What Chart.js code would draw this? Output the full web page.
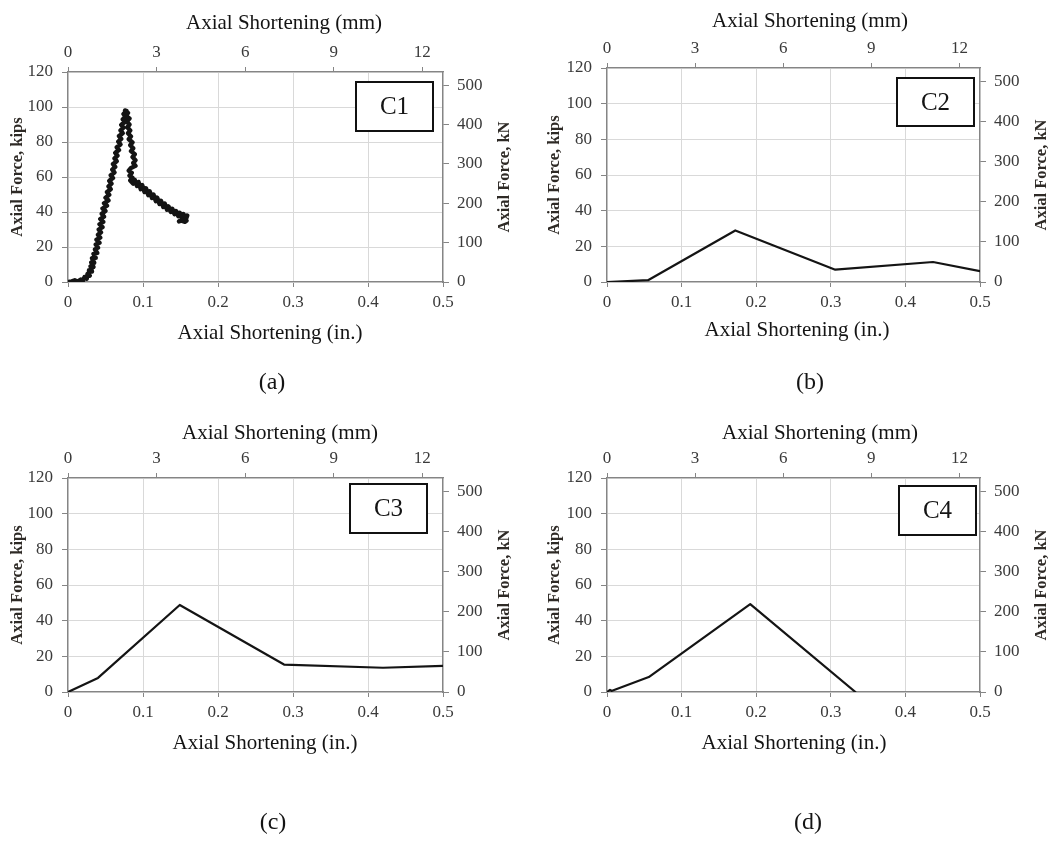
<!DOCTYPE html>
<html>
<head>
<meta charset="utf-8">
<title>Axial force vs. axial shortening, columns C1–C4</title>
<script src="https://cdn.jsdelivr.net/npm/chart.js@4.4.0/dist/chart.umd.min.js"></script>
<style>
  html, body { margin: 0; padding: 0; background: #ffffff; }
  body { width: 1054px; height: 846px; position: relative; overflow: hidden; }
  canvas { position: absolute; }
</style>
</head>
<body>
<canvas id="panelA" width="527" height="400" style="left:0px;top:0px"></canvas>
<canvas id="panelB" width="527" height="400" style="left:527px;top:0px"></canvas>
<canvas id="panelC" width="527" height="446" style="left:0px;top:400px"></canvas>
<canvas id="panelD" width="527" height="446" style="left:527px;top:400px"></canvas>
<script>
// ---- Test records: axial shortening (in.) and axial force (kips) ----
// C1 was logged continuously, so its record carries the transducer scatter.
const c1Shortening = [
  0.000, 0.005, 0.009, 0.013, 0.017, 0.020, 0.022, 0.025, 0.026, 0.029,
  0.028, 0.032, 0.030, 0.034, 0.031, 0.035, 0.032, 0.037, 0.034, 0.039,
  0.036, 0.040, 0.037, 0.042, 0.038, 0.043, 0.040, 0.044, 0.041, 0.046,
  0.042, 0.047, 0.043, 0.048, 0.045, 0.050, 0.046, 0.052, 0.048, 0.054,
  0.050, 0.055, 0.052, 0.057, 0.054, 0.058, 0.055, 0.060, 0.057, 0.062,
  0.059, 0.063, 0.060, 0.065, 0.062, 0.066, 0.063, 0.068, 0.065, 0.070,
  0.067, 0.071, 0.068, 0.073, 0.070, 0.074, 0.071, 0.076, 0.073, 0.077,
  0.074, 0.078, 0.076, 0.080, 0.077,
  0.082, 0.078, 0.082, 0.079, 0.083, 0.080, 0.084, 0.081, 0.086, 0.083,
  0.087, 0.084, 0.089, 0.086, 0.090, 0.087, 0.090, 0.084, 0.081, 0.085,
  0.082, 0.086, 0.083,
  0.087, 0.089, 0.092, 0.094, 0.097, 0.099, 0.102, 0.104, 0.107, 0.109,
  0.112, 0.114, 0.117, 0.119, 0.122, 0.124, 0.127, 0.129, 0.132, 0.134,
  0.137, 0.139, 0.142, 0.144, 0.147, 0.149, 0.152, 0.154, 0.157, 0.159,
  0.156, 0.151, 0.148, 0.154, 0.158
];
const c1Force = [
  0.0, 0.4, 1.0, 0.2, 1.4, 0.8, 2.8, 1.9, 4.6, 3.6,
  6.8, 6.0, 9.0, 8.6, 11.2, 11.0, 13.6, 13.8, 16.0, 16.6,
  18.6, 19.6, 21.4, 22.4, 24.2, 25.4, 27.0, 28.4, 30.0, 31.4,
  33.0, 34.4, 36.0, 37.4, 39.0, 40.6, 42.0, 43.6, 45.0, 46.6,
  48.2, 49.8, 51.4, 53.0, 54.6, 56.2, 57.8, 59.4, 61.0, 62.6,
  64.2, 65.8, 67.4, 69.0, 70.6, 72.2, 73.8, 75.4, 77.0, 78.6,
  80.2, 81.8, 83.4, 85.0, 86.6, 88.2, 89.8, 91.4, 93.0, 94.6,
  96.0, 97.8, 98.0, 96.6, 95.0,
  93.4, 91.8, 90.0, 88.4, 86.6, 85.0, 83.2, 81.6, 79.8, 78.2,
  76.4, 74.8, 73.0, 71.4, 69.6, 68.0, 66.4, 65.2, 63.6, 62.4,
  60.8, 59.6, 58.0,
  56.2, 58.4, 54.9, 57.2, 53.0, 55.4, 51.4, 53.6, 49.6, 51.8,
  48.0, 50.0, 46.2, 48.2, 44.6, 46.4, 42.9, 44.8, 41.3, 43.2,
  40.0, 41.9, 38.8, 40.6, 37.6, 39.6, 36.6, 38.8, 35.8, 38.0,
  34.4, 35.0, 34.6, 36.2, 35.0
];

const c2Shortening = [0.000, 0.055, 0.172, 0.306, 0.437, 0.500];
const c2Force      = [0.0,   1.0,   28.9,  6.9,   11.2,  6.1];

const c3Shortening = [0.000, 0.040, 0.149, 0.288, 0.420, 0.500];
const c3Force      = [0.0,   7.9,   48.8,  15.4,  13.6,  14.6];

const c4Shortening = [0.000, 0.004, 0.006, 0.056, 0.192, 0.333];
const c4Force      = [0.0,   1.2,   0.6,   8.4,   49.3,  0.0];

// ---- Axis ticks ----
const inchTicks = [0, 0.1, 0.2, 0.3, 0.4, 0.5];
const mmTicks   = [0, 3, 6, 9, 12];
const kipTicks  = [0, 20, 40, 60, 80, 100, 120];
const kNTicks   = [0, 100, 200, 300, 400, 500];

const IN_TO_MM = 25.4;
const KIP_TO_KN = 4.448;

const SERIF = '"Liberation Serif", "Times New Roman", serif';
const AXIS_GREY = '#858585';
const GRID_GREY = '#d9d9d9';
const TICK_TEXT = '#3a3a3a';
const INK = '#141414';

// Titles, tag box and caption drawn on top of each panel
function panelDecor(p) {
  return {
    id: 'panelDecor',
    afterDraw(chart) {
      const ctx = chart.ctx;
      const area = chart.chartArea;
      ctx.save();
      ctx.fillStyle = INK;
      ctx.textAlign = 'center';
      ctx.textBaseline = 'middle';

      ctx.font = '21px ' + SERIF;
      ctx.fillText('Axial Shortening (mm)', p.topTitle[0], p.topTitle[1]);
      ctx.fillText('Axial Shortening (in.)', p.bottomTitle[0], p.bottomTitle[1]);

      ctx.font = 'bold 16.5px ' + SERIF;
      ctx.fillStyle = '#2e2a26';
      ctx.save();
      ctx.translate(p.leftTitle[0], p.leftTitle[1]);
      ctx.rotate(-Math.PI / 2);
      ctx.fillText('Axial Force, kips', 0, 0);
      ctx.restore();
      ctx.save();
      ctx.translate(p.rightTitle[0], p.rightTitle[1]);
      ctx.rotate(-Math.PI / 2);
      ctx.fillText('Axial Force, kN', 0, 0);
      ctx.restore();

      // specimen tag box in the upper-right corner of the plot
      const bx = area.right - p.tagInset[0] - p.tagSize[0];
      const by = area.top + p.tagInset[1];
      ctx.fillStyle = '#ffffff';
      ctx.fillRect(bx, by, p.tagSize[0], p.tagSize[1]);
      ctx.strokeStyle = '#111111';
      ctx.lineWidth = 2;
      ctx.strokeRect(bx, by, p.tagSize[0], p.tagSize[1]);
      ctx.fillStyle = INK;
      ctx.font = '25px ' + SERIF;
      ctx.fillText(p.tag, bx + p.tagSize[0] / 2, by + p.tagSize[1] / 2 + 1);

      ctx.font = '24px ' + SERIF;
      ctx.fillText(p.caption, p.captionPos[0], p.captionPos[1]);
      ctx.restore();
    }
  };
}

function tickFont() { return { family: SERIF, size: 17 }; }

function fixedTicks(list) {
  return (scale) => { scale.ticks = list.map(v => ({ value: v })); };
}

function makePanel(canvasId, xs, ys, p) {
  const points = xs.map((x, i) => ({ x: x, y: ys[i] }));
  return new Chart(document.getElementById(canvasId), {
    type: 'line',
    data: {
      datasets: [{
        data: points,
        borderColor: INK,
        borderWidth: p.lineWidth,
        pointRadius: 0,
        tension: 0,
        fill: false,
        borderJoinStyle: 'round',
        borderCapStyle: 'round',
        xAxisID: 'x',
        yAxisID: 'y'
      }]
    },
    options: {
      responsive: false,
      animation: false,
      events: [],
      layout: { padding: 0 },
      plugins: { legend: { display: false }, tooltip: { enabled: false }, title: { display: false } },
      scales: {
        x: {
          type: 'linear', position: 'bottom', min: 0, max: 0.5,
          afterBuildTicks: fixedTicks(inchTicks),
          afterFit: (s) => { s.height = p.bottomH; },
          ticks: {
            font: tickFont(), color: TICK_TEXT, padding: 5, maxRotation: 0,
            callback: (v) => String(Number(v.toFixed(1)))
          },
          grid: { color: GRID_GREY, lineWidth: 1, tickColor: AXIS_GREY, tickLength: 5 },
          border: { color: AXIS_GREY, width: 1.3 }
        },
        xmm: {
          type: 'linear', position: 'top', min: 0, max: 0.5 * IN_TO_MM,
          afterBuildTicks: fixedTicks(mmTicks),
          afterFit: (s) => { s.height = p.topH; },
          ticks: { font: tickFont(), color: TICK_TEXT, padding: 4, maxRotation: 0 },
          grid: { drawOnChartArea: false, tickColor: AXIS_GREY, tickLength: 5 },
          border: { color: AXIS_GREY, width: 1.3 }
        },
        y: {
          type: 'linear', position: 'left', min: 0, max: 120,
          afterBuildTicks: fixedTicks(kipTicks),
          afterFit: (s) => { s.width = p.leftW; },
          ticks: { font: tickFont(), color: TICK_TEXT, padding: 9 },
          grid: { color: GRID_GREY, lineWidth: 1, tickColor: AXIS_GREY, tickLength: 6 },
          border: { color: AXIS_GREY, width: 1.3 }
        },
        ykN: {
          type: 'linear', position: 'right', min: 0, max: 120 * KIP_TO_KN,
          afterBuildTicks: fixedTicks(kNTicks),
          afterFit: (s) => { s.width = p.rightW; },
          ticks: { font: tickFont(), color: TICK_TEXT, padding: 8 },
          grid: { drawOnChartArea: false, tickColor: AXIS_GREY, tickLength: 6 },
          border: { color: AXIS_GREY, width: 1.3 }
        }
      }
    },
    plugins: [panelDecor(p)]
  });
}

makePanel('panelA', c1Shortening, c1Force, {
  leftW: 68, rightW: 84, topH: 72, bottomH: 118, lineWidth: 4.4,
  topTitle: [284, 23], bottomTitle: [270, 333],
  leftTitle: [18, 177], rightTitle: [505, 177],
  tag: 'C1', tagInset: [10, 10], tagSize: [77, 49],
  caption: '(a)', captionPos: [272, 383]
});

makePanel('panelB', c2Shortening, c2Force, {
  leftW: 80, rightW: 74, topH: 68, bottomH: 118, lineWidth: 2.2,
  topTitle: [283, 21], bottomTitle: [270, 330],
  leftTitle: [28, 175], rightTitle: [515, 175],
  tag: 'C2', tagInset: [6, 10], tagSize: [77, 48],
  caption: '(b)', captionPos: [283, 383]
});

makePanel('panelC', c3Shortening, c3Force, {
  leftW: 68, rightW: 84, topH: 78, bottomH: 154, lineWidth: 2.2,
  topTitle: [280, 33], bottomTitle: [265, 343],
  leftTitle: [18, 185], rightTitle: [505, 185],
  tag: 'C3', tagInset: [16, 6], tagSize: [77, 49],
  caption: '(c)', captionPos: [273, 423]
});

makePanel('panelD', c4Shortening, c4Force, {
  leftW: 80, rightW: 74, topH: 78, bottomH: 154, lineWidth: 2.2,
  topTitle: [293, 33], bottomTitle: [267, 343],
  leftTitle: [28, 185], rightTitle: [515, 185],
  tag: 'C4', tagInset: [4, 8], tagSize: [77, 49],
  caption: '(d)', captionPos: [281, 423]
});
</script>
</body>
</html>
